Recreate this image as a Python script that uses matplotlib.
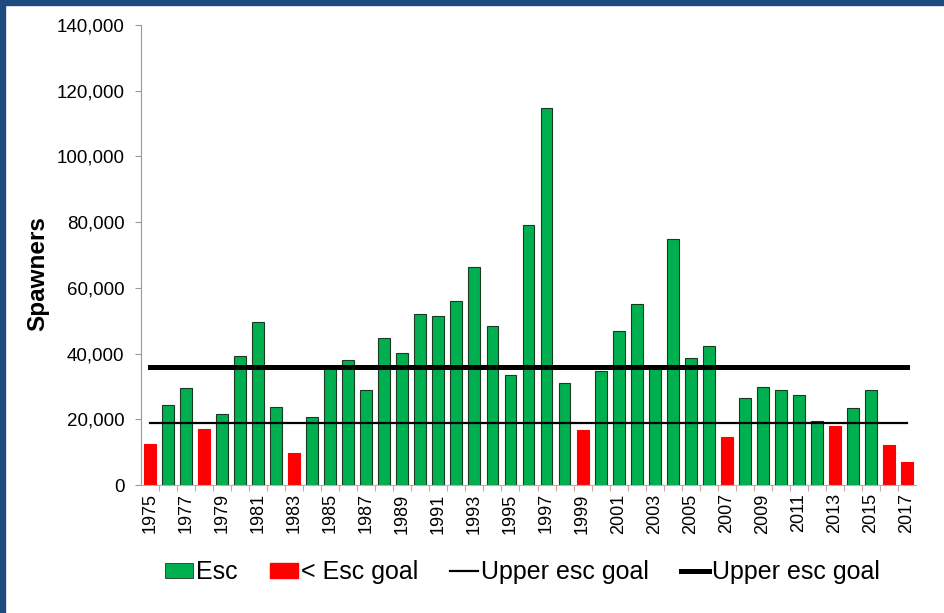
import numpy as np
import matplotlib
matplotlib.use('Agg')
import matplotlib.pyplot as plt
from matplotlib.patches import Patch, Rectangle
from matplotlib.lines import Line2D
from matplotlib.ticker import FuncFormatter

plt.rcParams['font.family'] = ['Liberation Sans', 'DejaVu Sans']

years = list(range(1975, 2018))
spawners = [12500, 24500, 29600, 17100, 21700, 39200, 49700, 23700, 9800, 20700,
            35600, 38100, 28900, 44600, 40200, 52100, 51500, 56000, 66200, 48400,
            33600, 79000, 114800, 31100, 16800, 34800, 46900, 55100, 35500, 75000,
            38600, 42300, 14500, 26500, 29700, 28900, 27400, 19400, 17900, 23500,
            28900, 12200, 6900]
below_goal = [1975, 1978, 1983, 1999, 2007, 2013, 2016, 2017]
lower_goal = 19000
upper_goal = 36000

green = '#00b050'
red = '#ff0000'

x = np.arange(len(years))
colors = [red if y in below_goal else green for y in years]
edges = ['#ff0000' if y in below_goal else '#1a3a22' for y in years]

fig = plt.figure(figsize=(9.44, 6.13), dpi=100)
ax = fig.add_axes([0.1494, 0.2088, 0.8209, 0.7504])

ax.bar(x, spawners, width=0.66, color=colors, edgecolor=edges, linewidth=0.8, zorder=2)
ax.plot([x[0], x[-1]], [lower_goal, lower_goal], color='black', lw=1.6, zorder=3)
ax.plot([x[0], x[-1]], [upper_goal, upper_goal], color='black', lw=3.6, zorder=3)

ax.set_xlim(-0.5, len(years) - 0.5)
ax.set_ylim(0, 140000)
ax.set_yticks(np.arange(0, 140001, 20000))
ax.yaxis.set_major_formatter(FuncFormatter(lambda v, p: f'{int(v):,}'))
ax.tick_params(axis='y', labelsize=13.5, length=4, color='#999999', width=0.8, pad=8)

ax.set_xticks(x[::2])
ax.set_xticklabels([str(y) for y in years[::2]], rotation=90, fontsize=13)
ax.set_xticks(x[:-1] + 0.5, minor=True)
ax.tick_params(axis='x', which='major', length=0, pad=6)
ax.tick_params(axis='x', which='minor', length=4, color='#c9a9a0', width=0.8)

for s in ['top', 'right']:
    ax.spines[s].set_visible(False)
ax.spines['left'].set_color('#999999')
ax.spines['bottom'].set_color('#c9a9a0')

ax.set_ylabel('Spawners', fontsize=17.5, fontweight='bold')
ax.yaxis.set_label_coords(-0.118, 0.46)

handles = [Patch(facecolor=green, edgecolor='#1a3a22', linewidth=0.6),
           Patch(facecolor=red, edgecolor=red),
           Line2D([], [], color='black', lw=1.6),
           Line2D([], [], color='black', lw=3.6)]
labels = ['Esc', '< Esc goal', 'Upper esc goal', 'Upper esc goal']
fig.legend(handles, labels, loc='center', bbox_to_anchor=(0.5535, 0.067), ncol=4,
           frameon=False, fontsize=18, handlelength=1.1, handleheight=0.55,
           handletextpad=0.12, columnspacing=1.3)

# blue frame along top and left edge
fig.patches.append(Rectangle((0, 0.992), 1, 0.008, transform=fig.transFigure,
                             color='#1f4a80', zorder=10))
fig.patches.append(Rectangle((0, 0), 0.0055, 1, transform=fig.transFigure,
                             color='#1f4a80', zorder=10))

fig.savefig('out.png', dpi=100)
